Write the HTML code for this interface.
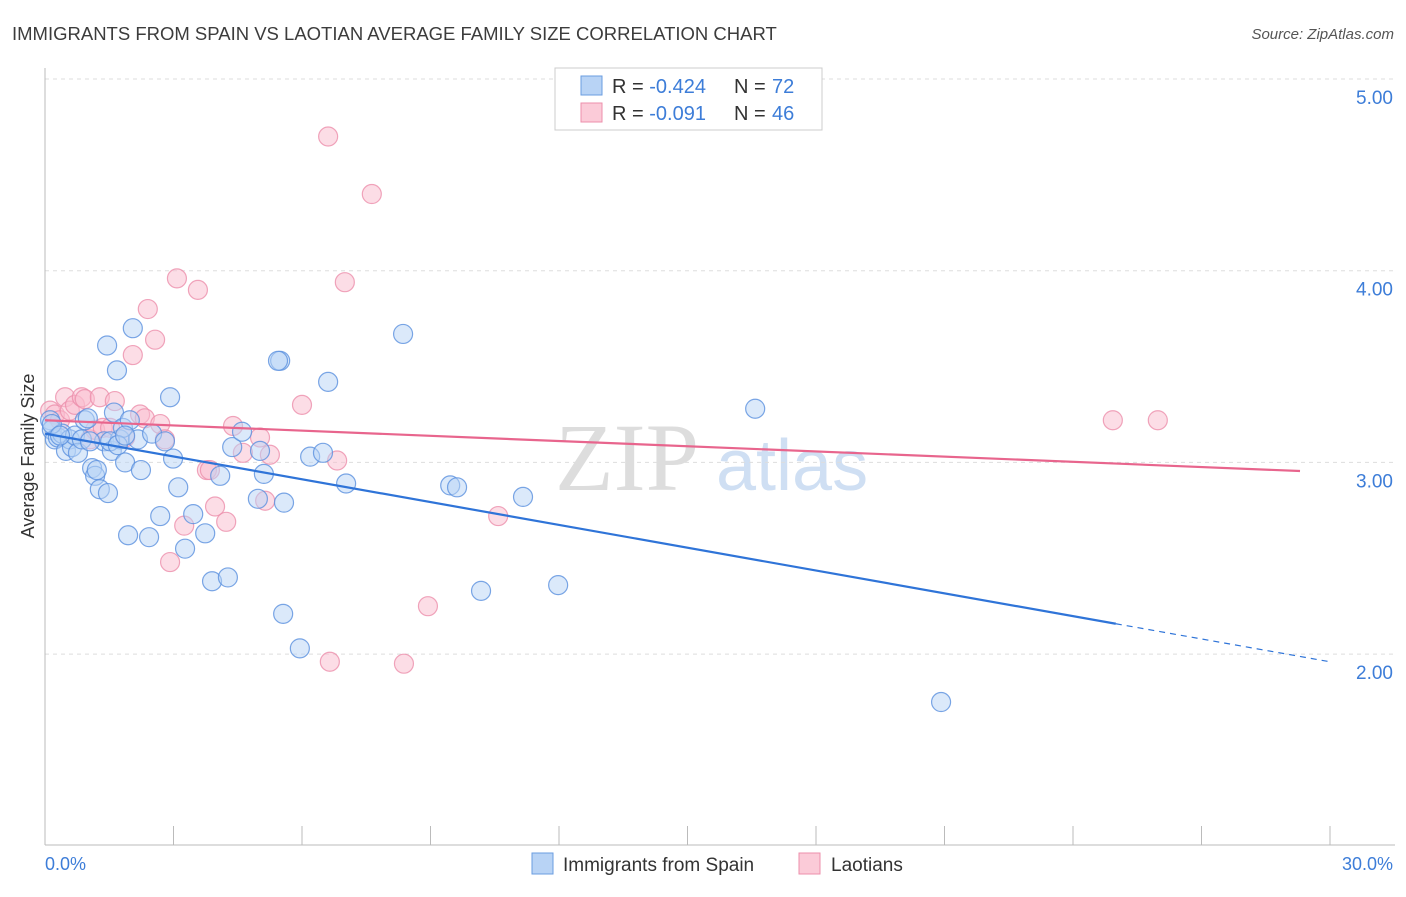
<!DOCTYPE html>
<html><head><meta charset="utf-8"><style>
body{margin:0;background:#fff;font-family:"Liberation Sans",sans-serif}
</style></head><body>
<svg id="chart" width="1406" height="892" xmlns="http://www.w3.org/2000/svg" font-family="Liberation Sans, sans-serif">
<text x="12" y="40" font-size="18.5" fill="#3c3c3c">IMMIGRANTS FROM SPAIN VS LAOTIAN AVERAGE FAMILY SIZE CORRELATION CHART</text>
<text x="1394" y="39" font-size="15" fill="#555" font-style="italic" text-anchor="end">Source: ZipAtlas.com</text>
<text x="555" y="490" font-size="96" fill="#ddd" font-family="Liberation Serif, serif">ZIP</text>
<text x="716" y="490" font-size="72" fill="#cfdff3">atlas</text>
<g id="grid"></g>
<g id="axes"></g>
<g id="pink"></g>
<g id="blue"></g>
<g id="trend"></g>
<text transform="translate(34,456) rotate(-90)" font-size="18" fill="#333" text-anchor="middle">Average Family Size</text>
<text x="45" y="870" font-size="18" fill="#3d7dd8">0.0%</text>
<text x="1393" y="870" font-size="18" fill="#3d7dd8" text-anchor="end">30.0%</text>
<g>
<rect x="555" y="68" width="267" height="62" fill="#fff" stroke="#ccc"/>
<rect x="581" y="76" width="21" height="19" fill="#b8d3f5" stroke="#6a9de0"/>
<rect x="581" y="103" width="21" height="19" fill="#fbcbd8" stroke="#ec8fab"/>
<text x="612" y="93" font-size="20" fill="#333">R = <tspan fill="#3d7dd8">-0.424</tspan></text>
<text x="734" y="93" font-size="20" fill="#333">N =</text>
<text x="772" y="93" font-size="20" fill="#3d7dd8">72</text>
<text x="612" y="120" font-size="20" fill="#333">R = <tspan fill="#3d7dd8">-0.091</tspan></text>
<text x="734" y="120" font-size="20" fill="#333">N =</text>
<text x="772" y="120" font-size="20" fill="#3d7dd8">46</text>
</g>
<g>
<rect x="532" y="853" width="21" height="21" fill="#b8d3f5" stroke="#6a9de0"/>
<text x="563" y="871" font-size="19" fill="#333">Immigrants from Spain</text>
<rect x="799" y="853" width="21" height="21" fill="#fbcbd8" stroke="#ec8fab"/>
<text x="831" y="871" font-size="19" fill="#333">Laotians</text>
</g>
</svg>
<script>
const yTicks=[5,4,3,2];
const yTickLabels=["5.00","4.00","3.00","2.00"];
const blueX=[.12,.16,.23,.30,.40,.49,.58,.63,.70,.77,.86,.93,1.00,1.10,1.17,1.21,1.28,1.38,1.45,1.47,1.56,1.61,1.68,1.75,1.82,1.87,1.94,1.98,2.05,2.17,2.24,2.43,2.50,2.69,2.80,2.92,2.99,3.11,3.27,3.46,3.74,3.90,4.09,4.27,4.37,4.60,4.97,5.02,5.11,5.49,5.58,5.56,5.95,6.19,6.49,6.61,7.03,8.36,9.46,9.62,10.18,11.16,11.98,16.58,20.92,.16,.35,1.52,1.70,1.87,1.05,5.44];
const blueY=[3.22,3.17,3.12,3.13,3.15,3.06,3.12,3.08,3.14,3.05,3.12,3.22,3.23,2.97,2.93,2.96,2.86,3.11,3.61,2.84,3.06,3.26,3.48,3.12,3.18,3.00,2.62,3.22,3.70,3.12,2.96,2.61,3.15,2.72,3.11,3.34,3.02,2.87,2.55,2.73,2.63,2.38,2.93,2.40,3.08,3.16,2.81,3.06,2.94,3.53,2.79,2.21,2.03,3.03,3.05,3.42,2.89,3.67,2.88,2.87,2.33,2.82,2.36,3.28,1.75,3.20,3.14,3.11,3.09,3.14,3.11,3.53];
const pinkX=[.12,.23,.35,.47,.58,.70,.86,.93,1.05,1.17,1.28,1.35,1.52,1.63,1.87,2.05,2.22,2.33,2.40,2.57,2.69,2.80,2.92,3.08,3.25,3.57,3.78,3.97,4.23,4.39,4.62,5.02,5.14,5.25,6.00,6.61,6.65,6.82,7.00,7.63,8.38,8.94,10.58,24.93,25.98,3.85];
const pinkY=[3.27,3.25,3.22,3.34,3.27,3.30,3.34,3.33,3.12,3.17,3.34,3.18,3.18,3.32,3.13,3.56,3.25,3.23,3.80,3.64,3.20,3.12,2.48,3.96,2.67,3.90,2.96,2.77,2.69,3.19,3.05,3.13,2.80,3.04,3.30,4.70,1.96,3.01,3.94,4.40,1.95,2.25,2.72,3.22,3.22,2.96];
const blueTrend=[3.15,1.96];
const pinkTrend=[3.22,2.955];
const NS="http://www.w3.org/2000/svg";
const xs=v=>45+v/30*1285;
const ys=v=>79+(5-v)*191.7;
function mk(tag,attrs,parent){const e=document.createElementNS(NS,tag);for(const k in attrs)e.setAttribute(k,attrs[k]);document.getElementById(parent).appendChild(e);return e;}
yTicks.forEach((t,i)=>{
 const l=mk('line',{x1:45,x2:1395,y1:ys(t),y2:ys(t),stroke:'#ddd','stroke-dasharray':'4,4'},'grid');
 
 
 const tx=mk('text',{x:1393,y:ys(t)+25,'font-size':19,fill:'#3d7dd8','text-anchor':'end'},'grid');
 tx.textContent=yTickLabels[i];
 
 
});
let a=mk('line',{x1:45,x2:45,y1:68,y2:845,stroke:'#bbb'},'axes');


a=mk('line',{x1:45,x2:1395,y1:845,y2:845,stroke:'#bbb'},'axes');


for(let k=1;k<=10;k++){
 const t=mk('line',{x1:xs(k*3),x2:xs(k*3),y1:826,y2:845,stroke:'#bbb'},'axes');
 
 
}
function dots(X,Y,g,fill,stroke,name){
 X.forEach((x,i)=>{
  const c=mk('circle',{cx:xs(x),cy:ys(Y[i]),r:9.5,fill:fill,'fill-opacity':0.5,stroke:stroke,'stroke-opacity':0.8,'stroke-width':1.2},g);
  
  
 });
}
dots(pinkX,pinkY,'pink','#f9bccd','#ec8fab','laotian-point');
dots(blueX,blueY,'blue','#b8d3f5','#5a90de','spain-point');
const bAt=x=>blueTrend[0]+(blueTrend[1]-blueTrend[0])*x/30;
let tl=mk('line',{x1:xs(0),y1:ys(bAt(0)),x2:xs(25),y2:ys(bAt(25)),stroke:'#2f74d8','stroke-width':2.2},'trend');


tl=mk('line',{x1:xs(25),y1:ys(bAt(25)),x2:xs(30),y2:ys(bAt(30)),stroke:'#2f74d8','stroke-width':1.2,'stroke-dasharray':'6,5'},'trend');


tl=mk('line',{x1:xs(0),y1:ys(pinkTrend[0]),x2:xs(29.3),y2:ys(pinkTrend[1]),stroke:'#e8658d','stroke-width':2.2},'trend');


</script>
</body></html>
